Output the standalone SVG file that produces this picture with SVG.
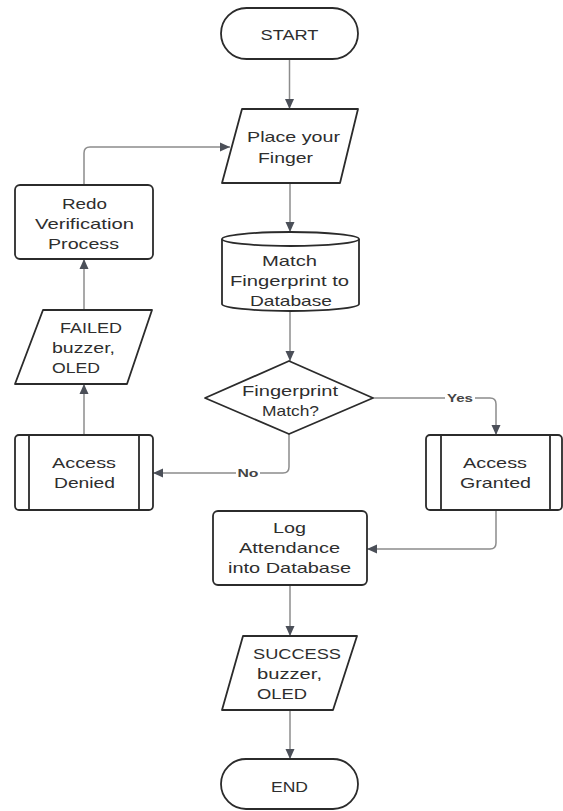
<svg xmlns="http://www.w3.org/2000/svg" width="563" height="811" viewBox="0 0 563 811">
<style>
.n{fill:#fff;stroke:#2b2b2b;stroke-width:1.8;stroke-linejoin:round}
.c{fill:none;stroke:#8c8c8c;stroke-width:1.5}
.t{font-family:"Liberation Sans",Arial,sans-serif;font-size:15px;fill:#2e2e2e}
.m{text-anchor:middle}
.l{font-family:"Liberation Sans",Arial,sans-serif;font-size:11.5px;font-weight:bold;fill:#444;text-anchor:middle}
</style>
<defs>
<marker id="ah" markerUnits="userSpaceOnUse" markerWidth="10" markerHeight="10" refX="10" refY="5" orient="auto">
<path d="M0,0.5 L10,5 L0,9.5 Z" fill="#4b4f58"/>
</marker>
</defs>
<rect width="563" height="811" fill="#fff"/>
<g id="connectors">
<path class="c" d="M289.5,59 V109" marker-end="url(#ah)"/>
<path class="c" d="M290,183 V232" marker-end="url(#ah)"/>
<path class="c" d="M290,311 V361" marker-end="url(#ah)"/>
<path class="c" d="M373,398 H490 Q496,398 496,404 V435" marker-end="url(#ah)"/>
<path class="c" d="M289,434 V467 Q289,473 283,473 H153" marker-end="url(#ah)"/>
<path class="c" d="M496,510 V543 Q496,549 490,549 H367" marker-end="url(#ah)"/>
<path class="c" d="M84,435 V384" marker-end="url(#ah)"/>
<path class="c" d="M84,310 V259" marker-end="url(#ah)"/>
<path class="c" d="M84,185 V153 Q84,147 90,147 H230" marker-end="url(#ah)"/>
<path class="c" d="M290,585 V636" marker-end="url(#ah)"/>
<path class="c" d="M290,710 V759" marker-end="url(#ah)"/>
<rect x="445" y="391" width="30" height="14" fill="#fff"/>
<text class="l" x="460" y="402" textLength="26" lengthAdjust="spacingAndGlyphs">Yes</text>
<rect x="236" y="466" width="24" height="14" fill="#fff"/>
<text class="l" x="248" y="477" textLength="21" lengthAdjust="spacingAndGlyphs">No</text>
</g>
<g id="start">
<rect class="n" x="221" y="8" width="137" height="51" rx="25.5"/>
<text class="t m" x="289.5" y="39.5" textLength="58" lengthAdjust="spacingAndGlyphs">START</text>
</g>
<g id="place">
<path class="n" d="M242,109 H358 L340,183 H222 Z"/>
<text class="t" x="247" y="142" textLength="93" lengthAdjust="spacingAndGlyphs">Place your</text>
<text class="t" x="258" y="163" textLength="55" lengthAdjust="spacingAndGlyphs">Finger</text>
</g>
<g id="match-db">
<path class="n" d="M222,239 A68.5,7 0 0 1 359,239 V304 A68.5,7 0 0 1 222,304 Z"/>
<path class="n" fill="none" d="M222,239 A68.5,7 0 0 0 359,239"/>
<text class="t m" x="289.5" y="266" textLength="55" lengthAdjust="spacingAndGlyphs">Match</text>
<text class="t m" x="289.5" y="286" textLength="119" lengthAdjust="spacingAndGlyphs">Fingerprint to</text>
<text class="t m" x="291" y="306" textLength="82" lengthAdjust="spacingAndGlyphs">Database</text>
</g>
<g id="redo">
<rect class="n" x="15" y="185" width="138" height="74" rx="5"/>
<text class="t m" x="84.5" y="209" textLength="45" lengthAdjust="spacingAndGlyphs">Redo</text>
<text class="t m" x="84.5" y="229" textLength="99" lengthAdjust="spacingAndGlyphs">Verification</text>
<text class="t m" x="83.5" y="249" textLength="71" lengthAdjust="spacingAndGlyphs">Process</text>
</g>
<g id="failed">
<path class="n" d="M43,310 H152 L127,384 H15 Z"/>
<text class="t" x="60" y="333" textLength="62" lengthAdjust="spacingAndGlyphs">FAILED</text>
<text class="t" x="52" y="353" textLength="63" lengthAdjust="spacingAndGlyphs">buzzer,</text>
<text class="t" x="52" y="373" textLength="48" lengthAdjust="spacingAndGlyphs">OLED</text>
</g>
<g id="decision">
<path class="n" d="M289,361 L373,398 L289,434 L205,398 Z"/>
<text class="t m" x="290" y="396" textLength="96" lengthAdjust="spacingAndGlyphs">Fingerprint</text>
<text class="t m" x="290.5" y="416" textLength="57" lengthAdjust="spacingAndGlyphs">Match?</text>
</g>
<g id="denied">
<rect class="n" x="15" y="435" width="138" height="75" rx="4"/>
<path class="n" d="M29,435 V510 M139,435 V510"/>
<text class="t m" x="84" y="468" textLength="64" lengthAdjust="spacingAndGlyphs">Access</text>
<text class="t m" x="84.5" y="488" textLength="61" lengthAdjust="spacingAndGlyphs">Denied</text>
</g>
<g id="granted">
<rect class="n" x="426" y="435" width="136" height="75" rx="4"/>
<path class="n" d="M441,435 V510 M550,435 V510"/>
<text class="t m" x="495" y="468" textLength="64" lengthAdjust="spacingAndGlyphs">Access</text>
<text class="t m" x="495.5" y="488" textLength="71" lengthAdjust="spacingAndGlyphs">Granted</text>
</g>
<g id="log">
<rect class="n" x="213" y="511" width="154" height="74" rx="5"/>
<text class="t m" x="289.5" y="533" textLength="33" lengthAdjust="spacingAndGlyphs">Log</text>
<text class="t m" x="289.5" y="553" textLength="101" lengthAdjust="spacingAndGlyphs">Attendance</text>
<text class="t m" x="289.5" y="573" textLength="123" lengthAdjust="spacingAndGlyphs">into Database</text>
</g>
<g id="success">
<path class="n" d="M243,636 H357 L333,710 H222 Z"/>
<text class="t" x="253" y="659" textLength="88" lengthAdjust="spacingAndGlyphs">SUCCESS</text>
<text class="t" x="257" y="679" textLength="65" lengthAdjust="spacingAndGlyphs">buzzer,</text>
<text class="t" x="257" y="699" textLength="50" lengthAdjust="spacingAndGlyphs">OLED</text>
</g>
<g id="end">
<rect class="n" x="221" y="759" width="137" height="50" rx="25"/>
<text class="t m" x="289.5" y="791.5" textLength="37" lengthAdjust="spacingAndGlyphs">END</text>
</g>
</svg>
